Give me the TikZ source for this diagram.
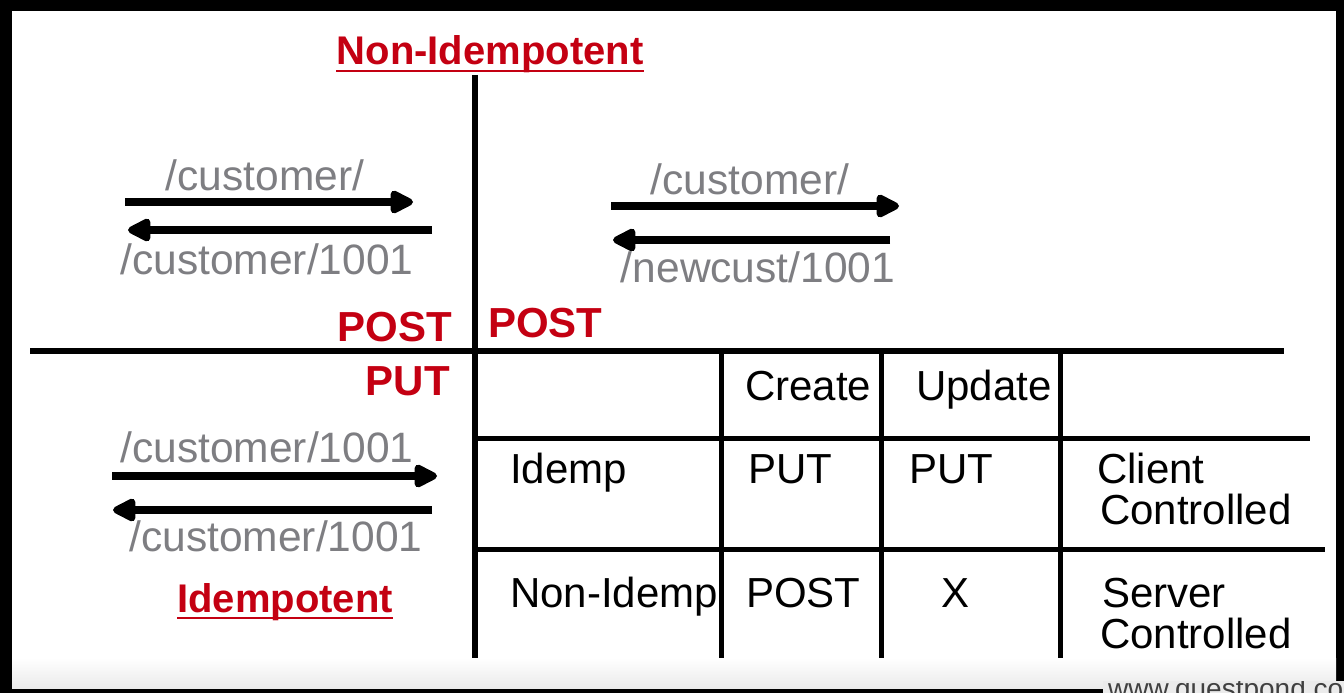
\documentclass[tikz,border=0pt]{standalone}
\usepackage{fontspec}
\setmainfont{Liberation Sans}
\usetikzlibrary{arrows.meta}
\definecolor{hdred}{RGB}{196,0,18}
\definecolor{urlgray}{RGB}{126,126,130}
\begin{document}
\begin{tikzpicture}[x=1pt,y=-1pt,
  heading/.style={font=\fontsize{40}{44}\selectfont\bfseries, text=hdred, inner sep=0pt, anchor=base},
  verb/.style={font=\fontsize{42}{46}\selectfont\bfseries, text=hdred, inner sep=0pt},
  url/.style={font=\fontsize{42.5}{46}\selectfont, text=urlgray, inner sep=0pt, anchor=base},
  cell/.style={font=\fontsize{42}{46}\selectfont, text=black, inner sep=0pt, anchor=base west},
  uline/.style={line width=2.6pt, draw=hdred},
  axis/.style={line width=6pt},
  rule/.style={line width=5pt},
  flow/.style={line width=8pt, -{Triangle[length=27pt,width=25pt,round]}},
]
\useasboundingbox (0,0) rectangle (1344,693);
% screen frame
\fill[black] (0,0) rectangle (1344,693);
\fill[white] (12,11) rectangle (1336,688);
\shade[top color=white, bottom color=black!8] (12,658) rectangle (1336,688);

% axes
\draw[axis] (475,75) -- (475,658);
\draw[axis] (30,351) -- (1284,351);

% table rules
\draw[rule] (475,438) -- (1310,438);
\draw[rule] (475,549) -- (1325,549);
\draw[rule] (721,351) -- (721,658);
\draw[rule] (881,351) -- (881,658);
\draw[rule] (1060,351) -- (1060,658);

% quadrant headings
\node[heading] (nonidem) at (490,65) {Non-Idempotent};
\draw[uline] ([yshift=-6pt]nonidem.base west) -- ([yshift=-6pt]nonidem.base east);
\node[heading] (idem) at (285,612) {Idempotent};
\draw[uline] ([yshift=-6pt]idem.base west) -- ([yshift=-6pt]idem.base east);

\node[verb, anchor=base east] (postl) at (452,341) {POST};
\node[verb, anchor=base west] (postr) at (488,337) {POST};
\node[verb, anchor=base east] (putl) at (450,395) {PUT};

% POST to a collection, server assigns the id
\node[url] (u1) at (265,190) {/customer/};
\node[url] (u2) at (267,274) {/customer/1001};
\coordinate (a1s) at (125,202);
\coordinate (a1e) at (413,202);
\coordinate (a2s) at (432,230);
\coordinate (a2e) at (128,230);
\draw[flow] (a1s) -- (a1e);
\draw[flow] (a2s) -- (a2e);

\node[url] (u3) at (750,194) {/customer/};
\node[url] (u4) at (758,282) {/newcust/1001};
\coordinate (b1s) at (611,206);
\coordinate (b1e) at (899,206);
\coordinate (b2s) at (890,240);
\coordinate (b2e) at (613,240);
\draw[flow] (b1s) -- (b1e);
\draw[flow] (b2s) -- (b2e);

% PUT to a known resource
\node[url] (u5) at (267,462) {/customer/1001};
\node[url] (u6) at (276,551) {/customer/1001};
\coordinate (c1s) at (112,476);
\coordinate (c1e) at (437,476);
\coordinate (c2s) at (432,510);
\coordinate (c2e) at (113,510);
\draw[flow] (c1s) -- (c1e);
\draw[flow] (c2s) -- (c2e);

% table cells
\node[cell] (hcreate) at (745,400) {Create};
\node[cell] (hupdate) at (916,400) {Update};
\node[cell] (ridem) at (510,483) {Idemp};
\node[cell] (rput1) at (748,483) {PUT};
\node[cell] (rput2) at (909,483) {PUT};
\node[cell] (rcli1) at (1097,483) {Client};
\node[cell] (rcli2) at (1100,524) {Controlled};
\node[cell] (rnon) at (510,607) {Non-Idemp};
\node[cell] (rpost) at (746,607) {POST};
\node[cell, anchor=base] (rx) at (955,607) {X};
\node[cell] (rsrv1) at (1102,607) {Server};
\node[cell] (rsrv2) at (1100,648) {Controlled};

% watermark strip along the bottom edge
\begin{scope}
  \clip (1103,681) rectangle (1344,693);
  \fill[black!8] (1103,681) rectangle (1344,693);
  \node[anchor=base west, inner sep=0pt, font=\fontsize{28}{30}\selectfont, text=black!75] (wm) at (1108,698) {www.questpond.com};
\end{scope}
\end{tikzpicture}
\end{document}
